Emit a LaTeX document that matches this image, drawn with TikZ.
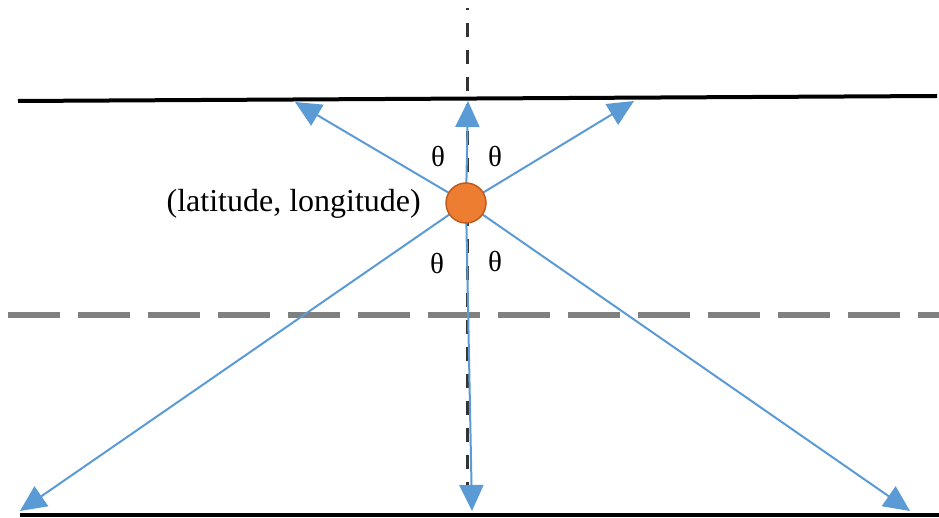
\documentclass[tikz,border=0pt]{standalone}
\usepackage{fontspec}
\setmainfont{Liberation Serif}
\usetikzlibrary{arrows.meta}
\definecolor{rayblue}{HTML}{5B9BD5}
\definecolor{dotorange}{HTML}{ED7D31}
\definecolor{dotedge}{HTML}{C05A1E}
\definecolor{midgray}{HTML}{808080}
\definecolor{axisdark}{HTML}{333333}
\tikzset{
  ray/.style={draw=rayblue, line width=2pt, -{Triangle[length=26pt,width=24pt]}},
  bound/.style={draw=black, line width=4pt},
  midline/.style={draw=midgray, line width=6pt, dash pattern=on 52pt off 18pt},
  axisline/.style={draw=axisdark, line width=3pt, dash pattern=on 14pt off 13pt},
  lbl/.style={inner sep=0pt, font=\fontsize{32}{37}\selectfont},
  thetalbl/.style={inner sep=0pt, font=\fontsize{29}{34}\selectfont}
}
\begin{document}
\begin{tikzpicture}[x=1pt,y=-1pt]
\useasboundingbox (0,0) rectangle (939,518);
% boundary lines
\coordinate (tl) at (18,101);
\coordinate (tr) at (937,96);
\coordinate (bl) at (20,515);
\coordinate (br) at (939,515);
\draw[bound] (tl) -- (tr);
\draw[bound] (bl) -- (br);
% middle dashed line
\coordinate (ml) at (8,315);
\coordinate (mr) at (939,315);
\draw[midline] (ml) -- (mr);
% vertical axis
\coordinate (vt) at (467,8);
\coordinate (vb) at (467,500);
\draw[axisline, dash phase=12pt] (vt) -- (vb);
% rays
\coordinate (o) at (466,203);
\coordinate (pul) at (295,102);
\coordinate (pu) at (468,101);
\coordinate (pur) at (634,101);
\coordinate (pll) at (20,511);
\coordinate (pd) at (472,511);
\coordinate (plr) at (910,511);
\draw[ray] (o) -- (pul);
\draw[ray] (o) -- (pu);
\draw[ray] (o) -- (pur);
\draw[ray] (o) -- (pll);
\draw[ray] (o) -- (pd);
\draw[ray] (o) -- (plr);
% point
\node[circle, fill=dotorange, draw=dotedge, line width=1.5pt, minimum size=40pt, inner sep=0pt] (c) at (o) {};
\node[lbl, anchor=east] (name) at (421,204) {(latitude, longitude)};
% theta labels
\node[thetalbl] (t1) at (438,157) {θ};
\node[thetalbl] (t2) at (495,157) {θ};
\node[thetalbl] (t3) at (437,264) {θ};
\node[thetalbl] (t4) at (495,262) {θ};
\end{tikzpicture}
\end{document}
